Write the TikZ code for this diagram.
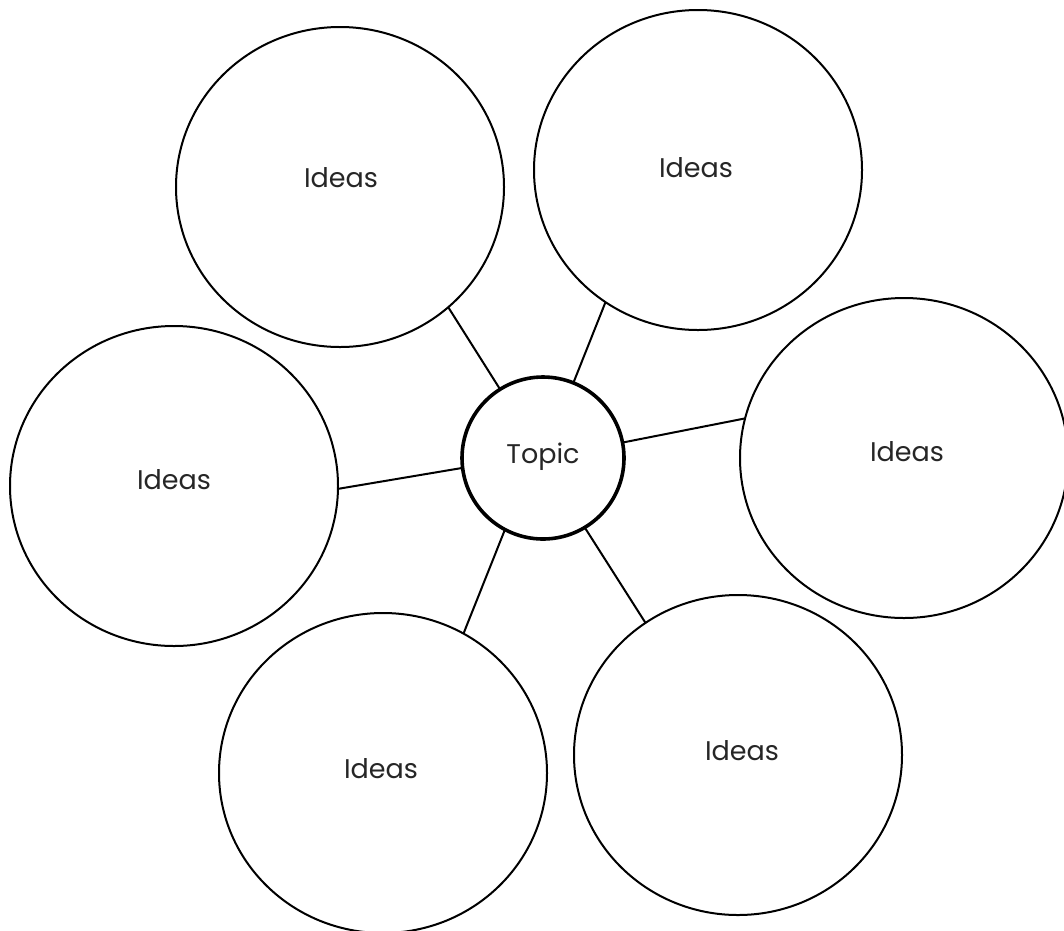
\documentclass[tikz,border=0pt]{standalone}
\usepackage{fontspec}
\setmainfont{Poppins}
\usetikzlibrary{shapes.geometric}
\definecolor{txt}{HTML}{262626}
\tikzset{
  idea/.style={draw=black, line width=2pt, ellipse, minimum width=328pt, minimum height=320pt, inner sep=0pt, outer sep=0pt},
  lab/.style={text=txt, font=\fontsize{27}{30}\selectfont, inner sep=0pt},
  topicbox/.style={draw=black, line width=3.6pt, circle, minimum size=162pt, inner sep=0pt, outer sep=0pt},
  link/.style={draw=black, line width=2pt}
}
\begin{document}
\begin{tikzpicture}[x=1pt,y=-1pt]
\useasboundingbox (0,0) rectangle (1064,930);
\node[topicbox] (topic) at (543,458) {};
\node[lab] (topiclab) at (543,457) {Topic};
\node[idea] (tl) at (340,187) {};
\node[idea] (tr) at (698,170) {};
\node[idea] (l) at (174,486) {};
\node[idea] (r) at (904,458) {};
\node[idea] (bl) at (383,773) {};
\node[idea] (br) at (738,755) {};
\node[lab] (tllab) at (341,178) {Ideas};
\node[lab] (trlab) at (696,168) {Ideas};
\node[lab] (llab) at (174,480) {Ideas};
\node[lab] (rlab) at (907,452) {Ideas};
\node[lab] (bllab) at (381,769) {Ideas};
\node[lab] (brlab) at (742,751) {Ideas};
\draw[link] (topic.122.7) -- (tl.-48.2);
\draw[link] (topic.68.7) -- (tr.235.7);
\draw[link] (topic.11) -- (r.166.1);
\draw[link] (topic.187.7) -- (l.-1.7);
\draw[link] (topic.242.8) -- (bl.60.9);
\draw[link] (topic.-59.7) -- (br.125.8);
\end{tikzpicture}
\end{document}
